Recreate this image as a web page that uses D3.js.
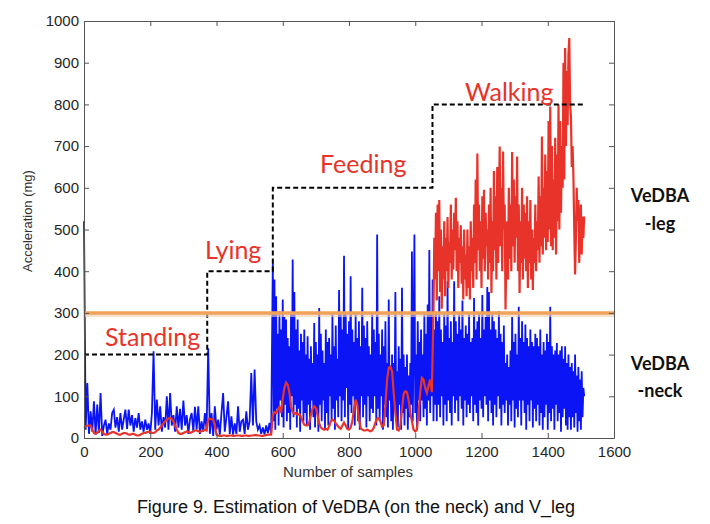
<!DOCTYPE html>
<html><head><meta charset="utf-8">
<script src="https://cdn.jsdelivr.net/npm/d3@7/dist/d3.min.js"></script>
<style>
html,body{margin:0;padding:0;background:#fff;}
svg{display:block;}
</style></head>
<body>
<script>
// ---- data ----
// VeDBA (neck): calm phase every 5 samples (0-565), active phase every 2.5 samples (570-1510)
const neckCalmStart = 0, neckCalmStep = 5;
const vedbaNeckCalm = [
520,20,132,10,64,15,88,8,80,12,108,5,30,44,10,35,20,60,68,25,50,15,60,20,45,68,22,68,30,55,15,48,25,60,20,40,15,44,20,35,
10,60,208,20,92,30,76,15,50,25,100,20,108,30,55,15,76,25,70,20,90,30,55,10,45,60,15,75,20,76,10,40,15,60,20,215,10,60,5,76,
20,44,8,60,108,15,50,88,10,52,8,35,10,76,15,40,44,10,64,20,40,156,30,164,40,20,30,10,25,8,30,12,36,10
];
const neckActiveStart = 570, neckActiveStep = 2.5;
const vedbaNeckActive = [
// 570-667.5
420,40,380,20,340,70,250,30,304,90,260,50,332,25,290,80,284,40,240,60,220,20,300,100,428,50,350,80,260,25,284,70,210,15,250,90,230,40,260,60,
// 670-767.5
200,30,244,80,190,20,220,90,180,50,276,25,230,70,200,15,312,80,250,40,210,90,180,20,260,60,230,30,240,100,200,40,300,70,220,20,270,90,190,50,
// 770-867.5
355,100,300,40,260,90,437,50,300,120,250,20,280,80,388,60,260,100,230,30,300,90,240,40,280,20,220,100,360,50,270,80,240,25,280,100,220,40,200,70,
// 870-967.5
300,60,260,100,230,30,488,70,250,40,200,100,260,20,220,80,280,50,180,25,332,90,170,40,200,20,180,70,350,50,160,25,220,80,190,20,360,60,200,30,
// 970-1067.5
170,70,200,20,150,50,180,80,447,40,230,488,60,200,25,280,90,230,40,260,90,200,50,300,70,250,30,320,90,451,60,300,100,380,40,260,80,300,40,280,
// 1070-1167.5
80,340,50,260,100,230,30,300,80,270,40,376,90,240,60,280,30,230,100,376,60,280,90,250,40,300,100,260,70,330,30,240,90,270,50,250,80,300,60,230,
// 1170-1267.5
100,240,40,336,80,260,60,280,30,300,90,240,70,343,50,260,100,290,80,362,40,350,90,260,60,300,30,280,80,260,50,240,100,304,70,250,30,230,80,270,
// 1270-1367.5
60,180,90,200,30,170,80,210,40,290,90,230,25,250,70,200,50,315,90,240,30,280,90,230,60,272,20,240,80,220,40,260,90,230,25,220,70,250,40,240,
// 1370-1467.5
80,220,30,260,60,200,20,230,50,210,80,250,20,230,60,315,40,220,70,200,20,210,80,228,40,200,60,210,15,220,50,190,70,220,30,180,20,200,50,170,
// 1470-1510
20,180,50,160,25,200,60,150,15,170,40,140,20,160,50,120,100
];
// V_leg: calm phases every 5 samples (0-1050), walking every 2.5 samples (1055-1510)
const legCalmStart = 0, legCalmStep = 5;
const vLegCalm = [
25,28,30,30,30,20,12,10,12,18,20,15,10,8,8,10,12,14,14,12,10,8,8,10,12,12,10,8,8,10,10,8,6,6,8,10,12,12,14,15,
15,12,12,14,18,20,25,30,35,40,44,47,48,46,40,30,20,12,10,10,12,14,16,15,12,14,16,18,18,16,15,16,18,20,18,46,46,45,44,30,
8,6,5,5,6,6,5,5,6,6,5,5,6,6,6,5,5,6,6,5,5,6,6,7,7,6,6,5,5,6,7,8,8,8,55,62,60,68,75,60,
95,120,133,128,110,75,62,58,60,55,58,50,40,32,30,30,38,55,70,76,72,55,35,25,22,20,22,20,28,40,44,42,35,30,25,22,30,37,30,22,
20,25,40,70,92,80,45,25,20,18,18,20,18,16,18,25,38,46,48,40,27,30,80,140,168,171,160,108,60,20,18,30,70,105,112,110,90,60,40,20,
16,20,60,110,144,140,120,108,125,140,110
];
const legWalkStart = 1055, legWalkStep = 2.5;
const vLegWalk = [
300,480,380,540,330,560,400,571,350,500,310,460,380,520,340,480,400,530,360,470,420,560,380,500,404,540,450,576,400,520,360,480,420,510,370,460,332,500,380,440,
340,500,360,460,332,520,400,480,360,560,420,620,380,682,450,560,400,520,360,580,430,595,400,540,460,500,380,560,420,600,348,520,400,640,450,580,380,650,420,560,
699,460,600,400,687,500,560,308,450,520,380,600,430,560,400,686,460,620,420,580,480,675,400,560,348,520,420,600,380,560,430,540,400,580,360,520,420,571,380,500,
355,480,420,560,400,520,450,627,420,580,460,723,440,600,480,680,450,640,470,760,500,795,460,700,450,620,480,720,440,680,520,800,500,760,540,700,600,900,620,935,
700,880,750,920,959,800,771,650,700,627,500,392,480,600,520,571,420,500,560,440,531,480,531
];
const stepX = [0, 372, 570, 1052, 1512];
const stepY = [200, 400, 600, 800, 800];
const thresholdY = 300;
const xTicks = [0,200,400,600,800,1000,1200,1400,1600];
const yTicks = [0,100,200,300,400,500,600,700,800,900,1000];
const activityLabels = ["Standing","Lying","Feeding","Walking"];
const activityPos = [[105,346],[205,259],[320,173],[465,101]];

// ---- layout ----
const W = 710, H = 524;
const svg = d3.select("body").append("svg").attr("width", W).attr("height", H);
const x = d3.scaleLinear().domain([0,1600]).range([84,614]);
const y = d3.scaleLinear().domain([0,1000]).range([438,21]);
const tickFont = "'Liberation Sans', Arial, sans-serif";

const pts = (arr, start, step) => arr.map((v,i)=>[start + i*step, v]);
const neckPts = pts(vedbaNeckCalm, neckCalmStart, neckCalmStep).concat(pts(vedbaNeckActive, neckActiveStart, neckActiveStep));
const legPts = pts(vLegCalm, legCalmStart, legCalmStep).concat(pts(vLegWalk, legWalkStart, legWalkStep));

const line = d3.line().x(d=>x(d[0])).y(d=>y(d[1]));
svg.append("path").datum(neckPts).attr("d", line)
  .attr("fill","none").attr("stroke","#0a14f5").attr("stroke-width",1.8);
svg.append("path").datum(legPts).attr("d", line)
  .attr("fill","none").attr("stroke","#e8332a").attr("stroke-width",2.2);

// dashed step
const stepPts = stepX.map((v,i)=>[v, stepY[i]]);
svg.append("path").datum(stepPts)
  .attr("d", d3.line().x(d=>x(d[0])).y(d=>y(d[1])).curve(d3.curveStepAfter))
  .attr("fill","none").attr("stroke","#000").attr("stroke-width",2).attr("stroke-dasharray","5,3");

// threshold
svg.append("line").attr("x1",x(0)).attr("x2",x(1600)+1).attr("y1",y(thresholdY)+2).attr("y2",y(thresholdY)+2)
  .attr("stroke","#e8d0b8").attr("stroke-width",4).attr("opacity",0.6);
svg.append("line").attr("x1",x(0)).attr("x2",x(1600)+1).attr("y1",y(thresholdY)).attr("y2",y(thresholdY))
  .attr("stroke","#f0a258").attr("stroke-width",3.5);

// axes
const ax = svg.append("g").attr("font-family", tickFont);
const fmt = d3.format("d");
ax.append("g").attr("transform",`translate(0,${y(0)})`)
  .call(d3.axisBottom(x).tickValues(xTicks).tickFormat(fmt).tickSizeInner(-5).tickSizeOuter(0).tickPadding(8));
ax.append("g").attr("transform",`translate(${x(0)},0)`)
  .call(d3.axisLeft(y).tickValues(yTicks).tickFormat(fmt).tickSizeInner(-5).tickSizeOuter(0).tickPadding(5));
ax.append("g").attr("transform",`translate(0,${y(1000)})`)
  .call(d3.axisTop(x).tickValues(xTicks).tickSizeInner(-5).tickSizeOuter(0).tickFormat(""));
ax.append("g").attr("transform",`translate(${x(1600)},0)`)
  .call(d3.axisRight(y).tickValues(yTicks).tickSizeInner(-5).tickSizeOuter(0).tickFormat(""));
ax.selectAll(".domain").attr("stroke","#555");
ax.selectAll(".tick line").attr("stroke","#555");
ax.selectAll(".tick text").attr("font-size",15).attr("fill","#262626");

// axis titles
svg.append("text").attr("x",348).attr("y",477).attr("text-anchor","middle")
  .attr("font-family",tickFont).attr("font-size",15).attr("fill","#333").text("Number of samples");
svg.append("text").attr("transform",`translate(32,221) rotate(-90)`).attr("text-anchor","middle")
  .attr("font-family",tickFont).attr("font-size",13).attr("fill","#333").text("Acceleration (mg)");

// activity labels
activityLabels.forEach((t,i)=>{
  svg.append("text").attr("x",activityPos[i][0]).attr("y",activityPos[i][1])
    .attr("font-family","Lato, 'Open Sans', sans-serif").attr("font-size",25).attr("fill","#e8332a").text(t);
});

// right side labels
const sideFont = "Lato, 'Open Sans', sans-serif";
[["VeDBA",202],["-leg",230],["VeDBA",370],["-neck",397]].forEach(([t,yy])=>{
  svg.append("text").attr("x",660).attr("y",yy).attr("text-anchor","middle")
    .attr("font-family",sideFont).attr("font-weight","bold").attr("font-size",18).attr("fill","#111").text(t);
});

// caption
svg.append("text").attr("x",356).attr("y",513).attr("text-anchor","middle")
  .attr("font-family",tickFont).attr("font-size",18).attr("fill","#111")
  .text("Figure 9. Estimation of VeDBA (on the neck) and V_leg");
</script>
</body></html>
